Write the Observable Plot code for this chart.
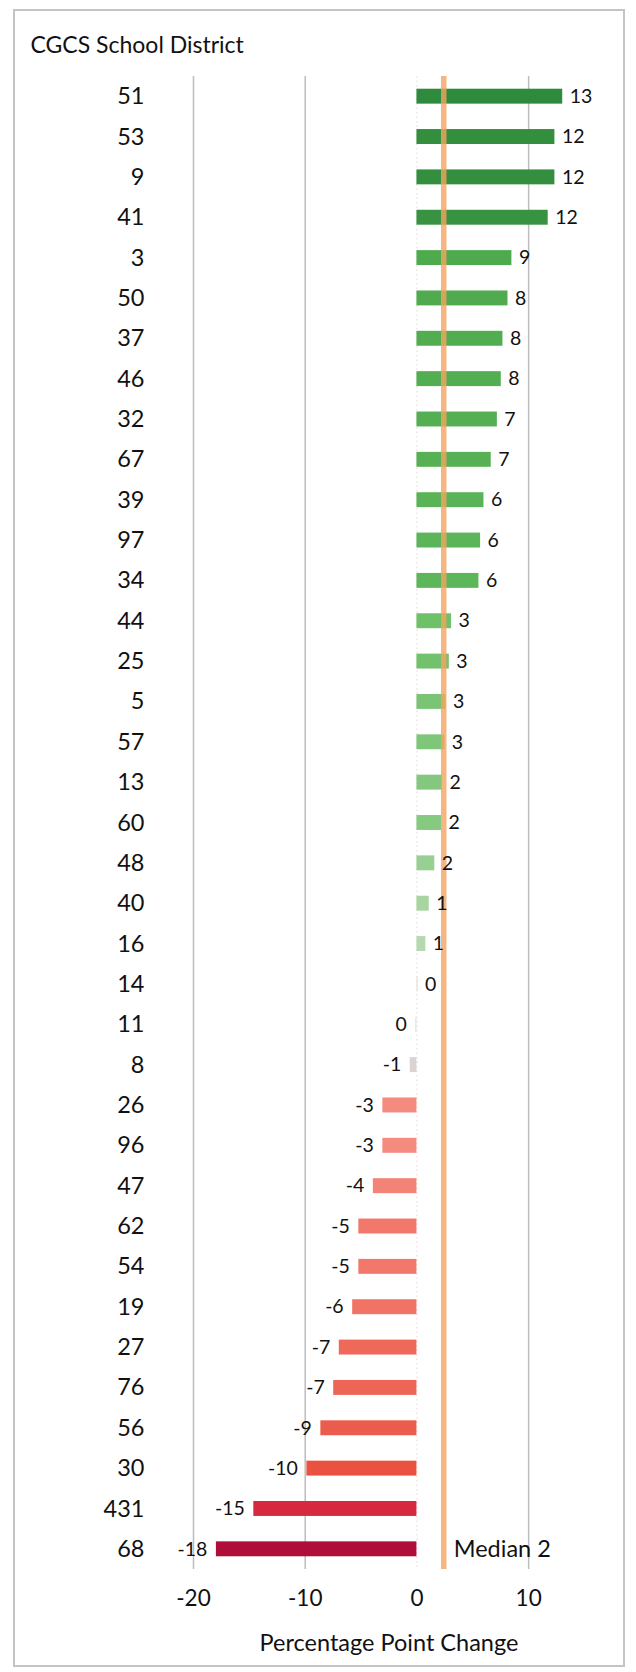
<!DOCTYPE html>
<html>
<head>
<meta charset="utf-8">
<script src="https://cdn.jsdelivr.net/npm/d3@7"></script>
<script src="https://cdn.jsdelivr.net/npm/@observablehq/plot@0.6"></script>
<style>
  html, body { margin: 0; padding: 0; background: #ffffff; }
  #wrap { position: relative; width: 636px; height: 1672px; background: #ffffff; }
  #border { position: absolute; left: 13px; top: 9px; width: 608px; height: 1654px; border: 2px solid #c4c4c4; box-sizing: content-box; }
  #chart { position: absolute; left: 0; top: 0; }
</style>
</head>
<body>
<div id="wrap">
  <div id="border"></div>
  <div id="chart"></div>
</div>
<script>
// ---- data ----
const districts = ["51","53","9","41","3","50","37","46","32","67","39","97","34","44","25","5","57","13","60","48","40","16","14","11","8","26","96","47","62","54","19","27","76","56","30","431","68"];
const changes = [13.05,12.35,12.35,11.75,8.5,8.15,7.7,7.55,7.2,6.65,6.0,5.7,5.55,3.1,2.9,2.6,2.5,2.3,2.2,1.6,1.1,0.8,0.1,-0.1,-0.6,-3.05,-3.05,-3.9,-5.2,-5.2,-5.75,-6.95,-7.45,-8.6,-9.85,-14.6,-17.95];
const median = 2.4;
const medianLabel = "Median 2";
const xTicks = [-20, -10, 0, 10];
const titleText = "CGCS School District";
const axisTitle = "Percentage Point Change";
const colorStops = [-18, -15, -10, -3, -0.6, 0, 1, 3, 6, 9, 13];
const colorRange = ["#ad0f3a", "#d4253f", "#e9503f", "#f58a7e", "#d9d4d2", "#e2e2e2", "#a9d6a3", "#6fc06a", "#5ab457", "#4aa84b", "#2e8a3c"];

const rows = districts.map((d, i) => ({district: d, value: changes[i]}));
const pos = rows.filter(r => r.value >= 0);
const neg = rows.filter(r => r.value < 0);
const fmt = v => String(Math.round(v));
const ink = "#111111";

const chart = Plot.plot({
  width: 636,
  height: 1672,
  marginLeft: 193,
  marginRight: 52,
  marginTop: 76,
  marginBottom: 103,
  style: {fontFamily: "Lato, 'Open Sans', sans-serif", background: "transparent", color: ink},
  x: {domain: [-20, 15]},
  y: {domain: districts, paddingInner: 0.63, paddingOuter: 0.315, round: false},
  color: {type: "linear", domain: colorStops, range: colorRange},
  marks: [
    Plot.ruleX(xTicks.filter(t => t !== 0), {stroke: "#bdbdbd", strokeWidth: 1.5}),
    Plot.ruleX([0], {stroke: "#ecd6d6", strokeDasharray: "1.5,3"}),
    Plot.barX(rows, {x: "value", y: "district", fill: "value"}),
    Plot.ruleX([median], {stroke: "#f3a561", strokeWidth: 5.5, strokeOpacity: 0.8}),
    Plot.text(pos, {x: "value", y: "district", text: d => fmt(d.value), dx: 7, textAnchor: "start", fontSize: 19.5, fill: ink}),
    Plot.text(neg, {x: "value", y: "district", text: d => fmt(d.value), dx: -9, textAnchor: "end", fontSize: 19.5, fill: ink}),
    Plot.text([medianLabel], {x: () => median, y: () => districts[districts.length - 1], text: d => d, dx: 10, textAnchor: "start", fontSize: 23.5, fill: ink}),
    Plot.axisY({tickSize: 0, tickPadding: 49, fontSize: 23.5, label: null}),
    Plot.axisX({ticks: xTicks, tickSize: 0, tickPadding: 21, fontSize: 22.5, label: null, tickFormat: d => String(d)}),
    Plot.text([titleText], {frameAnchor: "top-left", text: d => d, dx: -163, dy: -31, textAnchor: "start", lineAnchor: "middle", fontSize: 23, fill: ink}),
    Plot.text([axisTitle], {frameAnchor: "bottom", text: d => d, dy: 74, lineAnchor: "middle", fontSize: 23.5, fill: ink})
  ]
});
document.getElementById("chart").appendChild(chart);
</script>
</body>
</html>
